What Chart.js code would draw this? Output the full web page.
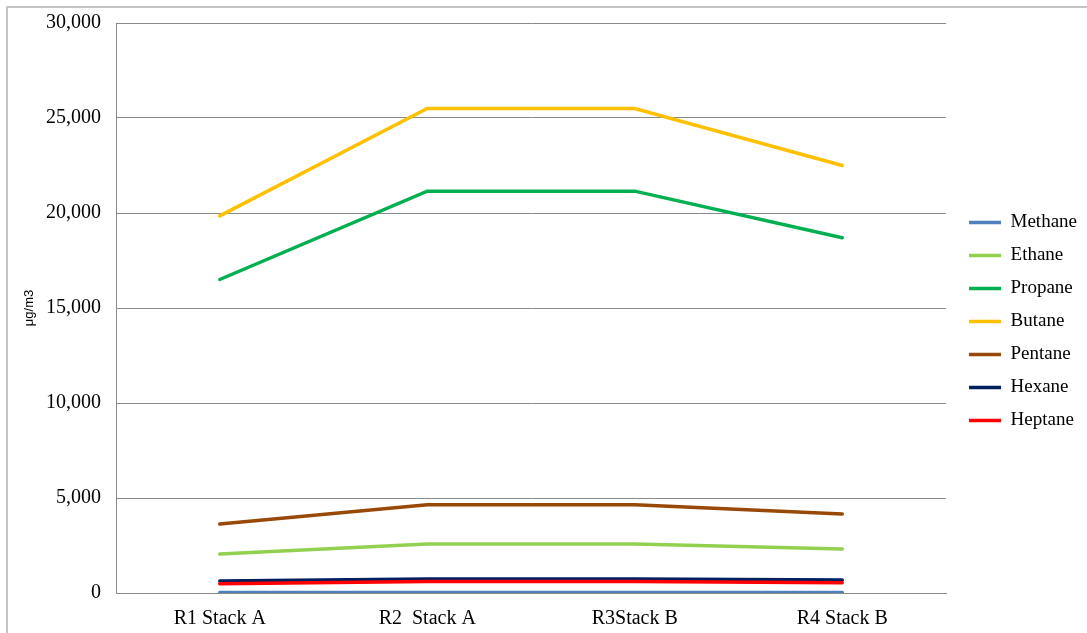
<!DOCTYPE html>
<html>
<head>
<meta charset="utf-8">
<script src="https://cdn.jsdelivr.net/npm/chart.js@4/dist/chart.umd.min.js"></script>
<style>
  html, body { margin: 0; padding: 0; background: #fff; }
  #wrap { width: 1087px; height: 633px; position: relative; }
</style>
</head>
<body>
<div id="wrap"><canvas id="chart" width="1087" height="633"></canvas></div>
<script>
// datos
const categories = ['R1 Stack A', 'R2  Stack A', 'R3Stack B', 'R4 Stack B'];
const methane = [20, 20, 20, 20];
const ethane  = [2050, 2580, 2580, 2320];
const propane = [16500, 21150, 21150, 18700];
const butane  = [19850, 25500, 25500, 22500];
const pentane = [3630, 4640, 4640, 4160];
const hexane  = [630, 740, 740, 690];
const heptane = [490, 610, 610, 540];
const yTicks  = [0, 5000, 10000, 15000, 20000, 25000, 30000];

const series = [
  ['Methane', methane, '#4f81bd'],
  ['Ethane',  ethane,  '#92d050'],
  ['Propane', propane, '#00b050'],
  ['Butane',  butane,  '#ffc000'],
  ['Pentane', pentane, '#984807'],
  ['Hexane',  hexane,  '#002060'],
  ['Heptane', heptane, '#ff0000']
];

const GRID = '#8a8a8a';
const SERIF = "'Liberation Serif', 'Times New Roman', serif";

// marco exterior gris
const framePlugin = {
  id: 'frame',
  beforeDraw(chart) {
    const ctx = chart.ctx;
    ctx.save();
    ctx.strokeStyle = '#c4c4c4';
    ctx.lineWidth = 2;
    ctx.beginPath();
    ctx.moveTo(7, chart.height);
    ctx.lineTo(7, 7);
    ctx.lineTo(chart.width, 7);
    ctx.stroke();
    ctx.restore();
  }
};

const ctx = document.getElementById('chart').getContext('2d');
new Chart(ctx, {
  type: 'line',
  data: {
    labels: categories,
    datasets: series.map(([label, data, color], i) => ({
      label, data,
      borderColor: color,
      backgroundColor: color,
      borderWidth: 3.5,
      borderCapStyle: 'round',
      pointRadius: 0,
      pointHoverRadius: 0,
      tension: 0,
      order: series.length - i
    }))
  },
  options: {
    responsive: false,
    animation: false,
    layout: { padding: { top: 10, right: 0, bottom: 0, left: 0 } },
    plugins: {
      tooltip: { enabled: false },
      legend: {
        position: 'right',
        reverse: true,
        labels: {
          usePointStyle: true,
          pointStyle: 'line',
          pointStyleWidth: 32,
          padding: 14,
          color: '#000',
          font: { family: SERIF, size: 19 }
        }
      }
    },
    scales: {
      x: {
        offset: true,
        grid: { display: false, drawTicks: false },
        border: { display: true, color: GRID, width: 1 },
        ticks: { color: '#000', padding: 14, font: { family: SERIF, size: 20 } },
        afterFit(s) { s.height = 40; }
      },
      y: {
        min: 0, max: 30000,
        afterBuildTicks(s) { s.ticks = yTicks.map(v => ({ value: v })); },
        grid: { color: GRID, lineWidth: 1, drawTicks: false },
        border: { display: true, color: GRID, width: 1 },
        ticks: {
          color: '#000', padding: 15,
          font: { family: SERIF, size: 20, lineHeight: 0.8 },
          callback: v => v.toLocaleString('en-US')
        },
        title: {
          display: true, text: 'μg/m3', color: '#000',
          font: { family: "'Liberation Sans', Arial, sans-serif", size: 13 },
          padding: { top: 22, bottom: 0 }
        },
        afterFit(s) { s.width = 116; }
      },
      gap: {
        position: 'right',
        display: true,
        min: 0, max: 1,
        grid: { display: false, drawTicks: false },
        border: { display: false },
        ticks: { display: false },
        afterFit(s) { s.width = 9; }
      }
    }
  },
  plugins: [framePlugin]
});
</script>
</body>
</html>
